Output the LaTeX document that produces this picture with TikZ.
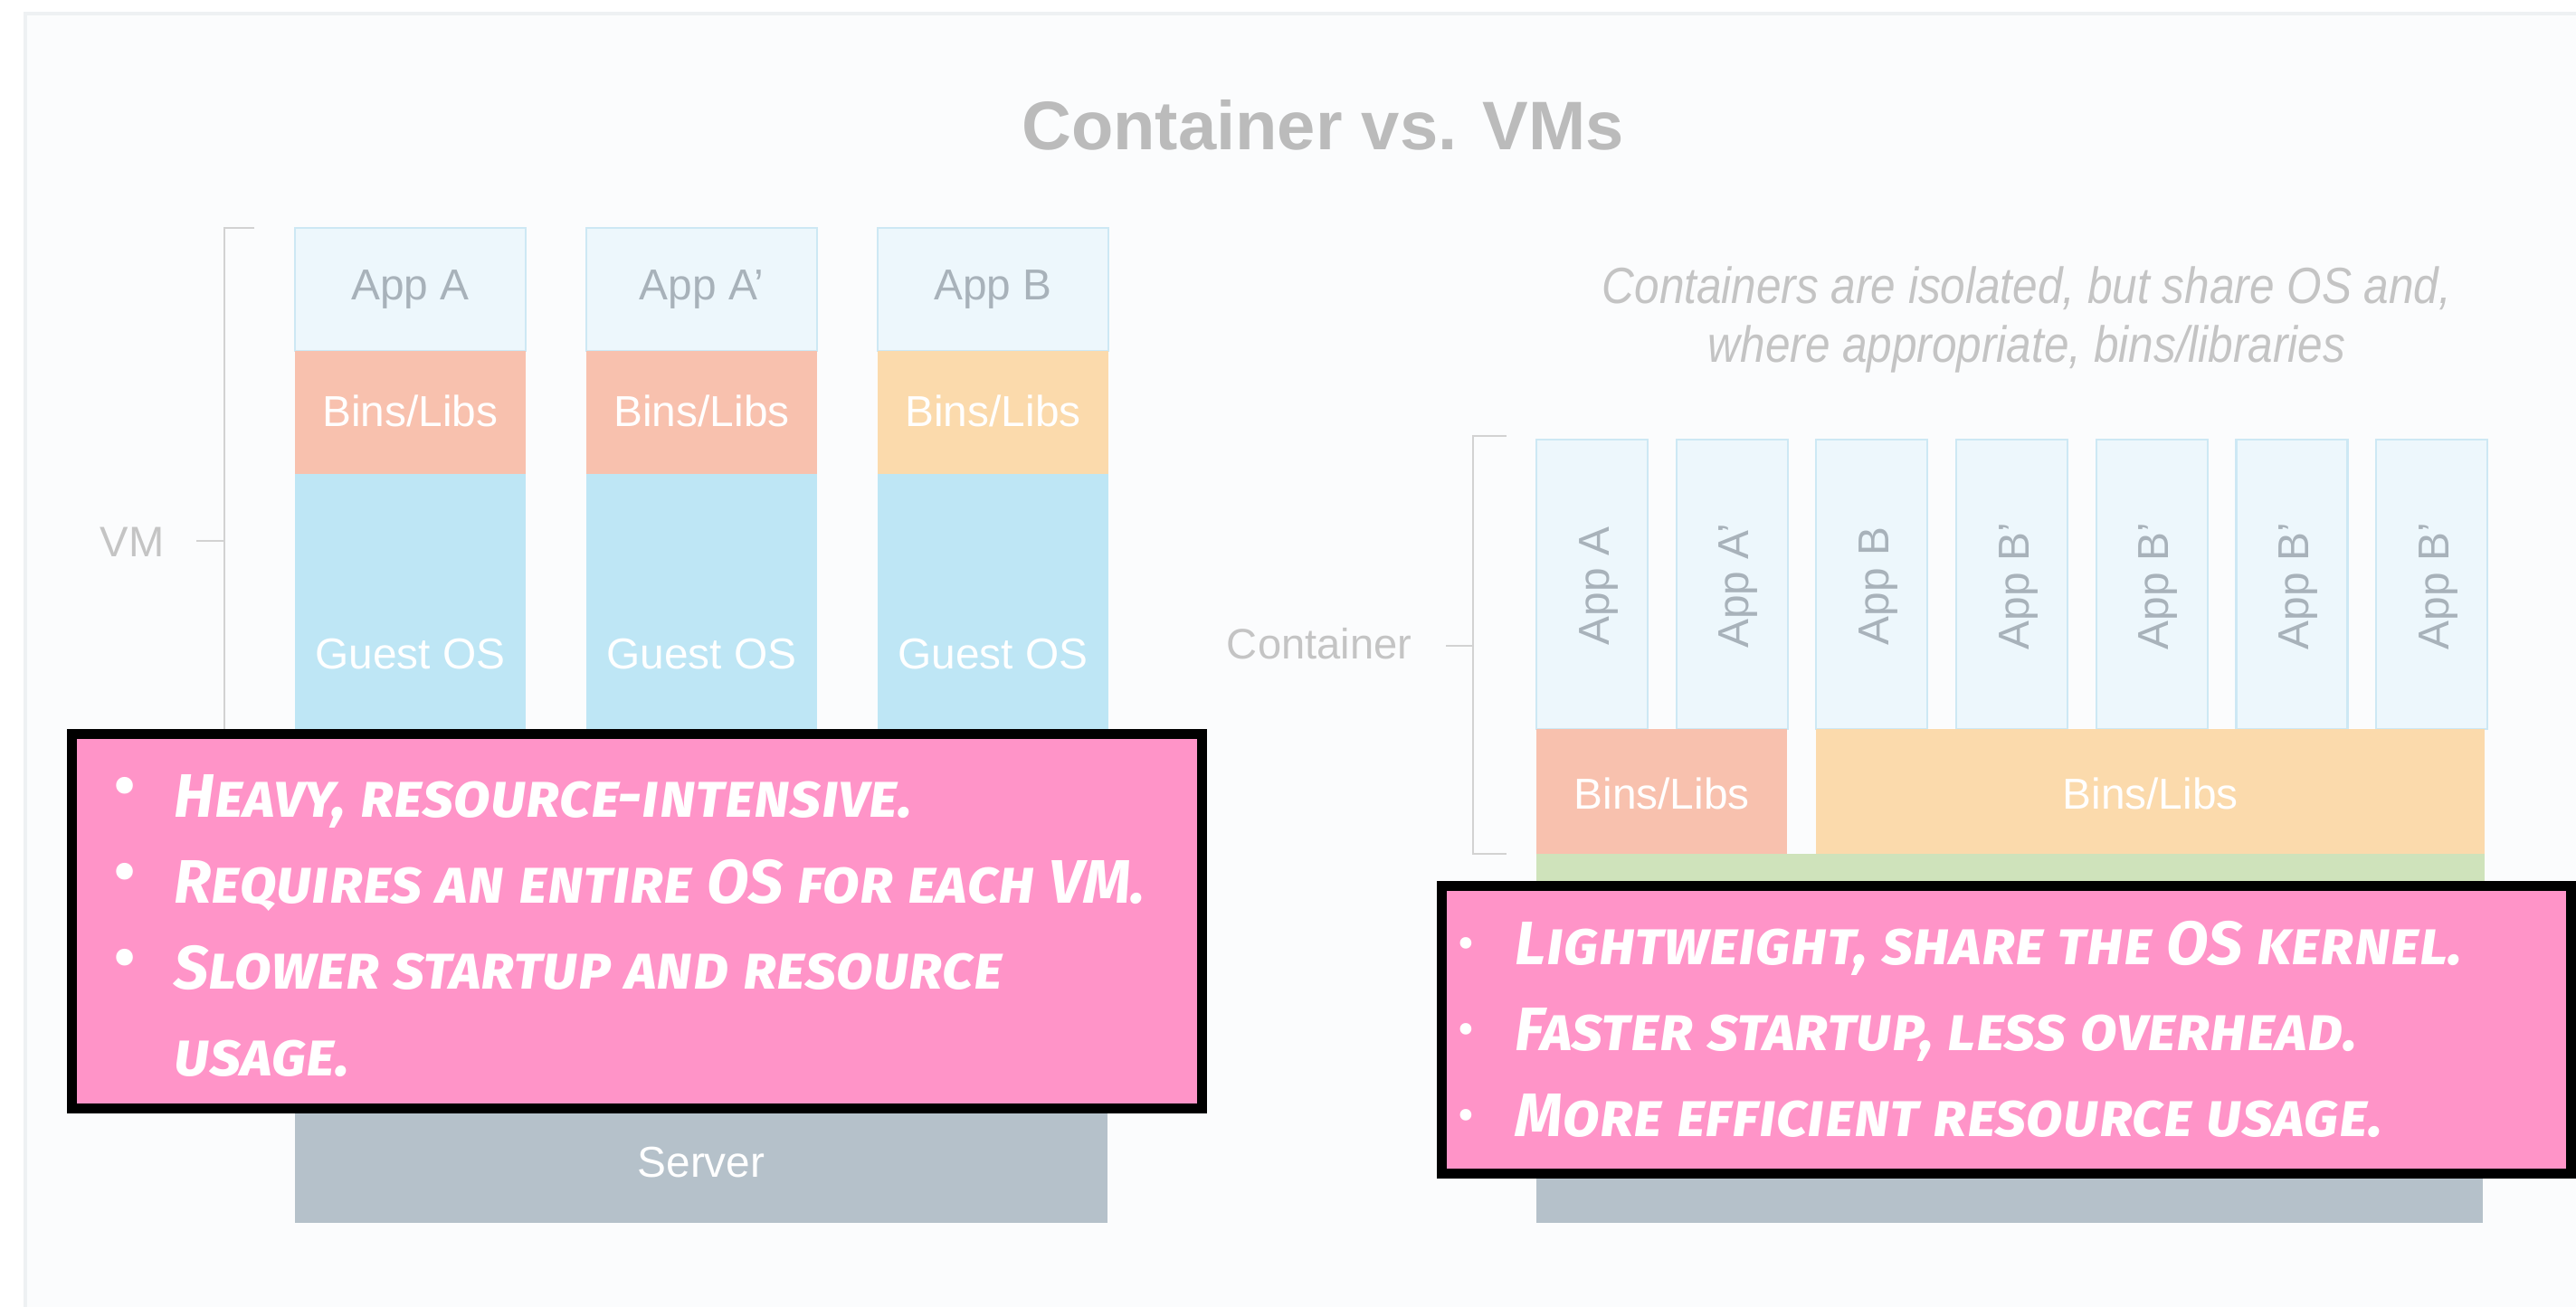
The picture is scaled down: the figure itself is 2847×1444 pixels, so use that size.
\documentclass[tikz,border=0pt]{standalone}
\usepackage{fontspec}
\setmainfont{Liberation Sans}
\newfontfamily\condfont[FakeStretch=0.88]{Liberation Sans}
\newfontfamily\notefont{Fira Sans}
\definecolor{panelfill}{HTML}{FBFCFD}
\definecolor{panelline}{HTML}{EEF1F3}
\definecolor{appfill}{HTML}{EDF7FC}
\definecolor{appline}{HTML}{CDE8F4}
\definecolor{binsred}{HTML}{F8C1AE}
\definecolor{binsorange}{HTML}{FBDAAC}
\definecolor{guestblue}{HTML}{BEE6F5}
\definecolor{hostgreen}{HTML}{CFE3BB}
\definecolor{servergray}{HTML}{B5C1CA}
\definecolor{notepink}{HTML}{FF94C8}
\definecolor{labelgray}{HTML}{A8B2BA}
\definecolor{titlegray}{HTML}{BBBBBB}
\definecolor{sidegray}{HTML}{C4C4C4}
\definecolor{bracketgray}{HTML}{D2D2D2}
\tikzset{
  appbox/.style={fill=appfill, draw=appline, line width=0.6pt},
  applabel/.style={text=labelgray, font=\fontsize{13.6pt}{16pt}\selectfont, inner sep=0pt, anchor=base},
  whitelabel/.style={text=white, font=\fontsize{13.6pt}{16pt}\selectfont, inner sep=0pt, anchor=base},
  sidelabel/.style={text=sidegray, font=\fontsize{13.4pt}{16pt}\selectfont, inner sep=0pt, anchor=base east},
  subtitle/.style={text=sidegray, font=\condfont\itshape\fontsize{16pt}{19pt}\selectfont, inner sep=0pt, anchor=base},
  bracket/.style={draw=bracketgray, line width=0.7pt},
  notebox/.style={fill=notepink, draw=black, line width=3.1pt},
  notetext/.style={text=white, inner sep=0pt, anchor=base west,
    font=\notefont\bfseries\itshape\addfontfeatures{Letters=SmallCaps}\fontsize{19.3pt}{22pt}\selectfont},
  notebullet/.style={text=white, inner sep=0pt, anchor=center, font=\notefont\bfseries\fontsize{19pt}{22pt}\selectfont},
  smallbullet/.style={notebullet, font=\notefont\bfseries\fontsize{13pt}{16pt}\selectfont},
}
\begin{document}
\begin{tikzpicture}[x=0.01cm, y=-0.01cm]
\useasboundingbox (0,0) rectangle (2847,1444);
\fill[white] (0,0) rectangle (2847,1444);
\filldraw[fill=panelfill, draw=panelline, line width=0.9pt] (28,15) rectangle (2860,1460);

% title
\node[text=titlegray, font=\bfseries\fontsize{21.6pt}{25pt}\selectfont, inner sep=0pt, anchor=base] (title) at (1462,165) {Container vs. VMs};

% ---------- VM side ----------
\draw[bracket] (281,252) -- (248,252) -- (248,820);
\coordinate (vmtick) at (217,598);
\draw[bracket] (vmtick) -- (248,598);
\node[sidelabel] (vmlabel) at (182,615) {VM};

\foreach \x/\app/\bc/\n in {326/App A/binsred/1, 648/App A'/binsred/2, 970/App B/binsorange/3}{
  \filldraw[appbox] (\x,252) rectangle ({\x+255},388);
  \fill[\bc] (\x,388) rectangle ({\x+255},524);
  \fill[guestblue] (\x,524) rectangle ({\x+255},815);
  \node[applabel] (vmapp\n) at ({\x+127.5},331) {\app};
  \node[whitelabel] (vmbins\n) at ({\x+127.5},471) {Bins/Libs};
  \node[whitelabel] (vmguest\n) at ({\x+127.5},739) {Guest OS};
}
\fill[servergray] (326,1220) rectangle (1224,1352);
\node[whitelabel] (vmserver) at (775,1301) {Server};

% ---------- Container side ----------
\node[subtitle] (sub1) at (2240,335) {Containers are isolated, but share OS and,};
\node[subtitle] (sub2) at (2240,400) {where appropriate, bins/libraries};

\draw[bracket] (1665,482) -- (1628,482) -- (1628,944) -- (1665,944);
\coordinate (ctick) at (1598,714);
\draw[bracket] (ctick) -- (1628,714);
\node[sidelabel] (clabel) at (1561,728) {Container};

\foreach \i/\app in {0/App A, 1/App A', 2/App B, 3/App B', 4/App B', 5/App B', 6/App B'}{
  \pgfmathsetmacro{\cx}{1698+\i*154.7}
  \filldraw[appbox] (\cx,486) rectangle ({\cx+123},806);
  \node[applabel, rotate=90] (capp\i) at ({\cx+80},648) {\app};
}
\fill[binsred] (1698,806) rectangle (1975,944);
\fill[binsorange] (2007,806) rectangle (2746,944);
\node[whitelabel] (cbins1) at (1836.5,894) {Bins/Libs};
\node[whitelabel] (cbins2) at (2376.5,894) {Bins/Libs};
\fill[hostgreen] (1698,944) rectangle (2746,990);
\fill[servergray] (1698,1280) rectangle (2744,1352);

% ---------- note boxes ----------
\draw[notebox] (79.5,811.5) rectangle (1328.5,1225.5);
\node[notebullet] (lb1) at (138,875) {•};
\node[notebullet] (lb2) at (138,970) {•};
\node[notebullet] (lb3) at (138,1065) {•};
\node[notetext] (lt1) at (192,903) {Heavy, resource-intensive.};
\node[notetext] (lt2) at (192,998) {Requires an entire OS for each VM.};
\node[notetext] (lt3) at (192,1093) {Slower startup and resource};
\node[notetext] (lt4) at (192,1189) {usage.};

\draw[notebox] (1593.5,979.5) rectangle (2841.5,1297.5);
\node[smallbullet] (rb1) at (1620,1048) {•};
\node[smallbullet] (rb2) at (1620,1143) {•};
\node[smallbullet] (rb3) at (1620,1238) {•};
\node[notetext] (rt1) at (1674,1066) {Lightweight, share the OS kernel.};
\node[notetext] (rt2) at (1674,1161) {Faster startup, less overhead.};
\node[notetext] (rt3) at (1674,1256) {More efficient resource usage.};
\end{tikzpicture}
\end{document}
